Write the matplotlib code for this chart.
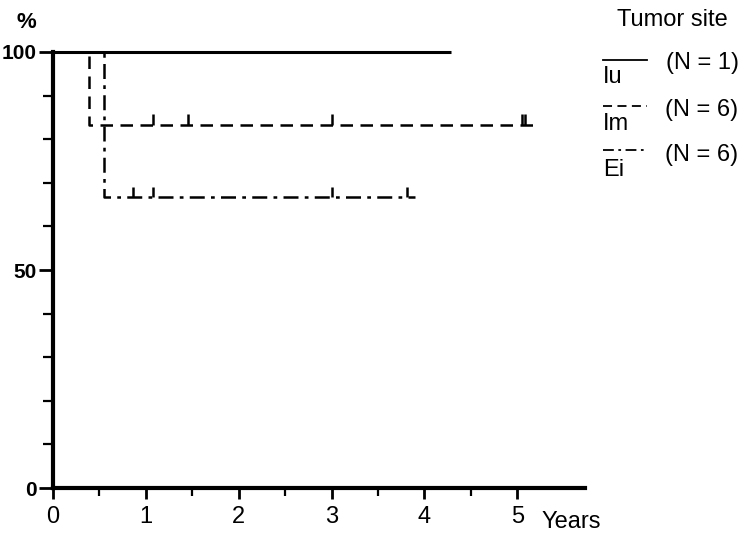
import matplotlib
matplotlib.use("Agg")
import matplotlib.pyplot as plt
from matplotlib.lines import Line2D

plt.rcParams['font.family'] = ['Liberation Sans', 'DejaVu Sans']

# Kaplan-Meier style survival data (years, %)
iu_times = [0.0, 4.29]
iu_surv = [100.0, 100.0]

im_step_times = [0.0, 0.39, 5.22]
im_step_surv = [100.0, 83.3, 83.3]
im_censor = [1.08, 1.45, 3.0, 5.05, 5.08]

ei_step_times = [0.0, 0.55, 3.9]
ei_step_surv = [100.0, 66.7, 66.7]
ei_censor = [0.86, 1.08, 3.0, 3.81]

x_ticks = [0, 1, 2, 3, 4, 5]
x_minor = [0.5, 1.5, 2.5, 3.5, 4.5]
y_ticks = [0, 50, 100]
y_minor = [10, 20, 30, 40, 60, 70, 80, 90]

legend_names = ["Iu", "Im", "Ei"]
legend_n = ["(N = 1)", "(N = 6)", "(N = 6)"]
legend_styles = ["-", (0, (5, 3)), (0, (6, 2.5, 1.5, 2.5))]

W, H = 747, 536
fig = plt.figure(figsize=(W / 100, H / 100), dpi=100)
ax_left, ax_right = 53, 585
ax_bottom, ax_top = 488, 52
ax = fig.add_axes([ax_left / W, (H - ax_bottom) / H, (ax_right - ax_left) / W, (ax_bottom - ax_top) / H])
ax.set_xlim(0, 5.73)
ax.set_ylim(0, 100)
ax.patch.set_alpha(0)

for s in ['top', 'right']:
    ax.spines[s].set_visible(False)
ax.spines['left'].set_linewidth(3)
ax.spines['bottom'].set_linewidth(3)
ax.spines['left'].set_bounds(0, 100)

ax.set_xticks(x_ticks)
ax.set_xticks(x_minor, minor=True)
ax.set_yticks(y_ticks)
ax.set_yticks(y_minor, minor=True)
ax.tick_params(axis='x', which='major', length=8, width=2, labelsize=17, pad=5)
ax.tick_params(axis='x', which='minor', length=6, width=1.6)
ax.tick_params(axis='y', which='major', length=10, width=2, labelsize=15, pad=2)
ax.tick_params(axis='y', which='minor', length=7, width=1.6)
for lab in ax.get_yticklabels():
    lab.set_fontweight('bold')

# Iu: solid
ax.plot(iu_times, iu_surv, color='black', lw=2.2, solid_capstyle='butt', clip_on=False)

# Im: dashed step
ax.step(im_step_times, im_step_surv, where='post', color='black', lw=1.8,
        linestyle=legend_styles[1], clip_on=False)
# Ei: dash-dot step
ax.step(ei_step_times, ei_step_surv, where='post', color='black', lw=1.8,
        linestyle=legend_styles[2], clip_on=False)

# censoring marks
ax.vlines(im_censor, [im_step_surv[-1]] * len(im_censor),
          [im_step_surv[-1] + 2.4] * len(im_censor), color='black', lw=1.8)
ax.vlines(ei_censor, [ei_step_surv[-1]] * len(ei_censor),
          [ei_step_surv[-1] + 2.4] * len(ei_censor), color='black', lw=1.8)

# axis annotations
fig.text(26 / W, 1 - 22 / H, "%", fontsize=16, fontweight='bold', ha='center', va='center')
fig.text(571 / W, 1 - 522 / H, "Years", fontsize=17, ha='center', va='center')

# legend
fig.text(672 / W, 1 - 20 / H, "Tumor site", fontsize=17, ha='center', va='center')
line_y = [60, 106, 150]
name_y = [77, 124, 170]
n_y = [63, 110, 155]
for ls, name, n, ly, nyy, ty in zip(legend_styles, legend_names, legend_n, line_y, name_y, n_y):
    fig.add_artist(Line2D([603 / W, 647 / W], [1 - ly / H, 1 - ly / H], color='black',
                          lw=1.3, linestyle=ls, transform=fig.transFigure))
    fig.text(603 / W, 1 - nyy / H, name, fontsize=17, ha='left', va='center')
    fig.text(702 / W, 1 - ty / H, n, fontsize=17, ha='center', va='center')

fig.savefig("out.png", dpi=100)
